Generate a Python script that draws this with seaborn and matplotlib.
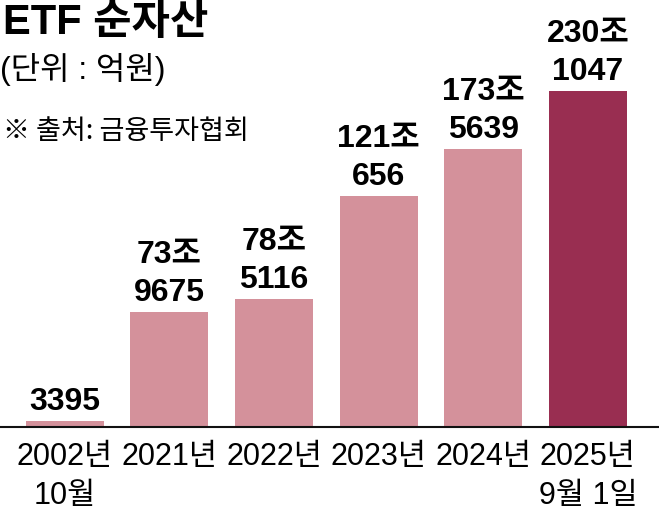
import numpy as np
import pandas as pd
import seaborn as sns
import matplotlib.pyplot as plt
from matplotlib import font_manager

# %%
years = ['2002년\n10월', '2021년', '2022년', '2023년', '2024년', '2025년\n9월 1일']
jo = ['', '73조', '78조', '121조', '173조', '230조']          # 조 part of the label
eok = ['3395', '9675', '5116', '656', '5639', '1047']          # 억 part of the label
# bar lengths as drawn in the graphic (not to scale with the labels)
bar_height = [4.1, 78.8, 87.7, 158.2, 190.4, 230.1]
bar_colors = ['#d4919b', '#d4919b', '#d4919b', '#d4919b', '#d4919b', '#992e51']

df = pd.DataFrame({'year': years, 'height': bar_height})

# %%
sns.set_theme(style='white')
names = {f.name for f in font_manager.fontManager.ttflist}
narrow = 'Liberation Sans Narrow' if 'Liberation Sans Narrow' in names else 'Liberation Sans'
cond = [narrow, 'Noto Sans CJK KR']
bold = ['Liberation Sans', 'Noto Sans CJK KR']
plt.rcParams['font.family'] = cond
plt.rcParams['text.color'] = 'black'
plt.rcParams['xtick.color'] = 'black'

fig = plt.figure(figsize=(6.59, 5.17), dpi=100)
ax = fig.add_axes([0, 90 / 517, 1, 427 / 517])

sns.barplot(data=df, x='year', y='height', hue='year', palette=bar_colors,
            legend=False, width=0.745, linewidth=0, saturation=1, ax=ax)

ax.set_xlim(-0.62, 5.68)
ax.set_ylim(0, 427 / 1.46)

for i, (j, e, h) in enumerate(zip(jo, eok, bar_height)):
    ax.annotate(e, (i, h), xytext=(0, 8), textcoords='offset points',
                ha='center', va='baseline', fontsize=23, fontweight='bold',
                family=bold, color='black')
    if j:
        ax.annotate(j, (i, h), xytext=(0, 35), textcoords='offset points',
                    ha='center', va='baseline', fontsize=23, fontweight='bold',
                    family=bold, color='black')

for s in ['top', 'left', 'right']:
    ax.spines[s].set_visible(False)
ax.spines['bottom'].set_color('#111111')
ax.spines['bottom'].set_linewidth(1.5)
ax.set_yticks([])
ax.set_xlabel('')
ax.set_ylabel('')
ax.tick_params(axis='x', length=0, pad=11, labelsize=22, labelcolor='black')
for t in ax.get_xticklabels():
    t.set_linespacing(1.4)
    t.set_family(cond)

fig.text(0.004, 0.995, 'ETF 순자산', fontsize=30, fontweight='bold',
         family=[narrow, 'Noto Sans CJK KR'], va='top', ha='left', color='black')
fig.text(0.0, 0.897, '(단위 : 억원)', fontsize=23, family=cond,
         va='top', ha='left', color='black')
fig.text(0.004, 0.772, '※ 출처: 금융투자협회', fontsize=19.5,
         family=['Noto Sans CJK KR', 'DejaVu Sans'], va='top', ha='left',
         color='black')

fig.savefig('out.png', dpi=100)
